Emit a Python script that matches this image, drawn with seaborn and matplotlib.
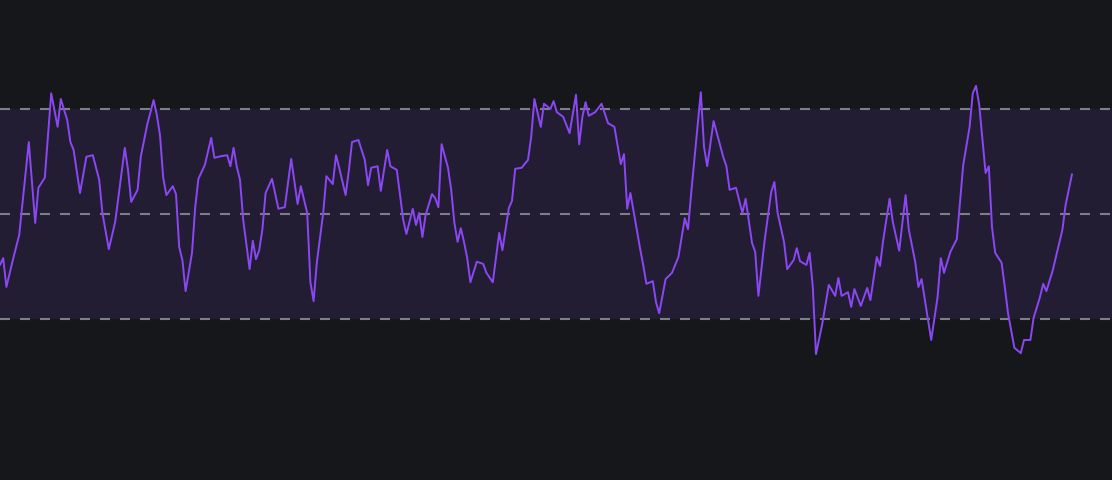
import matplotlib
matplotlib.use("Agg")
import matplotlib.pyplot as plt
import seaborn as sns
import pandas as pd

# Bar index and RSI values
bar_index = [0, 1, 2, 4, 6, 9, 11, 12, 14, 16, 18, 19, 21, 22, 23, 25, 27, 29, 31,
             32, 34, 36, 37, 39, 40, 41, 43, 44, 46, 48, 49, 50, 51, 52, 54, 55, 56, 57, 58, 60, 61,
             62, 64, 66, 67, 69, 71, 72, 73, 74, 75, 76, 78, 79, 80, 81, 82, 83, 85, 87, 89,
             91, 93, 94, 96, 97, 98, 99, 101, 102, 104, 105, 106, 108, 109, 110, 112, 114, 115, 116, 118, 119,
             121, 122, 124, 126, 127, 129, 130, 131, 132, 133, 135, 136, 137, 138, 140, 141, 142, 143, 144, 145,
             146, 147, 149, 151, 152, 154, 156, 157, 159, 160, 161, 163, 165, 166, 167, 169, 170, 172, 173, 174,
             176, 178, 180, 181, 182, 183, 184, 186, 188, 190, 192, 194, 195, 196, 197, 200, 201, 202, 204, 205,
             206, 208, 210, 212, 214, 215, 216, 219, 220, 221, 223, 226, 227, 228, 230, 232, 233, 235, 236, 237,
             239, 241, 242, 243, 245, 246, 248, 249, 250, 252, 253, 254, 255, 257, 258, 259, 261, 262, 263, 265,
             266, 267, 269, 271, 272, 274, 275, 276, 278, 279, 281, 283, 284, 286, 287, 288, 291, 293, 294, 295,
             297, 299, 301, 303, 304, 305, 306, 308, 309, 310, 311, 313, 314, 315, 317, 319, 320, 322, 323, 325,
             326, 327, 329, 332, 333, 335]
rsi = [40.3, 41.6, 36.1, 41.2, 46.0, 63.7, 48.3, 55.0, 56.9, 73.0, 66.6, 71.9, 67.9, 63.7, 62.2, 54.0, 60.9, 61.2, 56.5,
       50.2, 43.3, 48.5, 53.2, 62.6, 58.4, 52.3, 54.6, 60.9, 67.0, 71.7, 68.9, 65.0, 56.9, 53.6, 55.3, 53.8, 43.7, 41.2, 35.3, 42.6, 51.3,
       56.7, 59.3, 64.5, 60.7, 61.0, 61.2, 59.1, 62.6, 59.0, 56.5, 48.9, 39.5, 44.9, 41.4, 43.1, 47.1, 54.0, 56.7, 51.0, 51.3,
       60.5, 51.9, 55.3, 50.2, 37.0, 33.4, 40.7, 50.2, 57.2, 55.7, 61.2, 58.8, 53.6, 58.2, 63.7, 64.1, 60.3, 55.5, 58.8, 59.1, 54.4,
       62.2, 59.1, 58.4, 48.9, 46.2, 51.0, 47.9, 50.2, 45.6, 49.8, 53.8, 53.0, 51.3, 63.3, 58.8, 54.6, 48.3, 44.7, 47.3, 44.7,
       41.6, 37.0, 40.9, 40.5, 38.8, 37.0, 46.4, 43.1, 51.1, 52.5, 58.6, 58.8, 60.3, 64.7, 71.9, 66.6, 71.0, 70.0, 71.5, 69.4,
       68.5, 65.4, 72.7, 63.3, 68.5, 71.3, 68.7, 69.4, 71.0, 67.3, 66.6, 59.5, 61.4, 51.0, 54.0, 43.5, 40.3, 36.7, 37.2, 33.2,
       31.1, 37.6, 38.8, 41.8, 49.2, 47.1, 54.0, 73.2, 62.8, 59.1, 67.7, 60.9, 59.1, 54.6, 55.0, 50.2, 52.9, 44.5, 42.8, 34.4,
       45.2, 54.2, 56.1, 50.2, 44.7, 39.5, 41.2, 43.5, 41.0, 40.3, 42.6, 36.1, 23.3, 29.2, 32.9, 36.5, 34.4, 37.8, 34.4, 35.1,
       32.3, 35.7, 32.5, 35.9, 33.6, 41.8, 40.1, 45.0, 52.9, 48.5, 43.0, 53.6, 47.0, 40.9, 36.1, 37.6, 26.0, 34.2, 41.6, 38.8,
       42.8, 45.2, 59.3, 66.6, 73.0, 74.4, 70.8, 57.8, 59.1, 47.5, 42.6, 40.7, 36.1, 31.1, 24.5, 23.5, 26.0, 26.0, 30.2, 34.2,
       36.7, 35.3, 39.3, 47.0, 51.7, 57.6]

levels = [30, 50, 70]
band = (30, 70)

BG = "#16171b"
df = pd.DataFrame({"bar": bar_index, "rsi": rsi})

sns.set_theme(style="dark")
fig = plt.figure(figsize=(11.12, 4.8), dpi=100, facecolor=BG)
ax = fig.add_axes([0, 0, 1, 1])
ax.set_facecolor(BG)

ax.axhspan(band[0], band[1], color="#221d33", zorder=0, lw=0)
for lv in levels:
    ax.axhline(lv, color="#7c7f86", lw=1.5, dashes=(4.8, 4.8), zorder=1)

sns.lineplot(data=df, x="bar", y="rsi", ax=ax, color="#8c47f5", lw=1.4, zorder=3)

ax.set_xlim(0, 347.5)
ax.set_ylim(-0.67, 90.76)
ax.set_axis_off()

fig.savefig("out.png", dpi=100, facecolor=BG)
